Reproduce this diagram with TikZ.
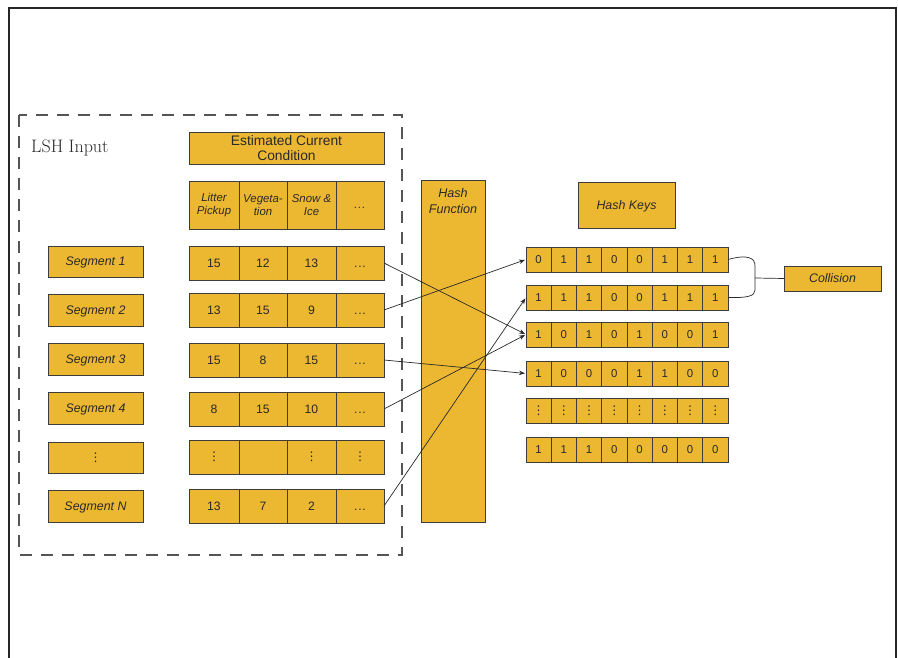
\documentclass[tikz,border=0pt]{standalone}
\usepackage{fontspec}
\newfontfamily\sansf{Liberation Sans}
\newfontfamily\djv{DejaVu Sans}
\usetikzlibrary{arrows.meta}
\definecolor{boxfill}{HTML}{ECB731}
\definecolor{boxline}{HTML}{3C3C3C}
\definecolor{txt}{HTML}{2A2A2A}
\definecolor{frame}{HTML}{262626}
\definecolor{dashc}{HTML}{555555}
\newcommand\ddd{\vphantom{1}.\kern0.8pt.\kern0.8pt.}
\newcommand\vd{{\djv\fontsize{12}{12}\selectfont ⋮}}
\tikzset{
  bx/.style={draw=boxline, fill=boxfill, line width=0.8pt, inner sep=0pt, outer sep=0pt,
    text=txt, font=\sansf\fontsize{12.2}{13}\selectfont, align=center},
  segtxt/.style={font=\sansf\itshape\fontsize{12.4}{14}\selectfont, text depth=0pt},
  hdtxt/.style={font=\sansf\itshape\fontsize{11.4}{13}\selectfont},
  keytxt/.style={font=\sansf\fontsize{11.4}{12}\selectfont},
  arr/.style={draw=txt, line width=0.7pt, -{Stealth[length=6pt,width=4.5pt]}, shorten >=1pt},
  conn/.style={draw=txt, line width=0.7pt},
}
% #1 options, #2 name, #3 x1, #4 y1, #5 x2, #6 y2, #7 text
\newcommand\bxat[7][]{%
  \pgfmathsetmacro\bw{#5-#3}\pgfmathsetmacro\bh{#6-#4}%
  \pgfmathsetmacro\bcx{(#3+#5)/2}\pgfmathsetmacro\bcy{(#4+#6)/2}%
  \node[bx,minimum width=\bw pt,minimum height=\bh pt,#1] (#2) at (\bcx,\bcy) {#7};}
\begin{document}
\begin{tikzpicture}[x=1pt,y=-1pt]
\useasboundingbox (0,0) rectangle (898,658);
% outer frame
\draw[frame, line width=2pt] (9,658) -- (9,8) -- (896,8) -- (896,658);
% dashed input region
\draw[dashc, line width=1.3pt, dash pattern=on 12pt off 9pt] (19,115) rectangle (402,555);
\node[anchor=west, text=txt, font=\fontsize{18}{20}\selectfont, inner sep=0pt] (lsh) at (31,148) {LSH Input};
% header
\bxat[font=\sansf\fontsize{13.8}{15}\selectfont]{est}{189}{132}{384}{164}{Estimated Current\\Condition}
\bxat[hdtxt]{h1}{189}{181}{239}{229}{Litter\\Pickup}
\bxat[hdtxt]{h2}{239}{181}{287}{229}{Vegeta-\\tion}
\bxat[hdtxt]{h3}{287}{181}{336}{229}{Snow \&\\Ice}
\bxat[hdtxt]{h4}{336}{181}{384}{229}{\ddd}
% segments
\bxat[segtxt]{s1}{48}{246}{143}{277}{Segment 1}
\bxat[segtxt]{s2}{48}{294}{143}{326}{Segment 2}
\bxat[segtxt]{s3}{48}{343}{143}{375}{Segment 3}
\bxat[segtxt]{s4}{48}{392}{143}{424}{Segment 4}
\bxat[segtxt]{s5}{48}{442}{143}{473}{\vd}
\bxat[segtxt]{s6}{48}{490}{143}{522}{Segment N}
% value rows
\foreach \r/\ya/\yb/\va/\vb/\vc/\vdd in {1/246/280/15/12/13/\ddd, 2/293/327/13/15/9/\ddd,
   3/343/377/15/8/15/\ddd, 4/392/426/8/15/10/\ddd, 5/440/474/\vd/{}/\vd/\vd, 6/489/523/13/7/2/\ddd}{
  \bxat{v\r a}{189}{\ya}{239}{\yb}{\va}
  \bxat{v\r b}{239}{\ya}{287}{\yb}{\vb}
  \bxat{v\r c}{287}{\ya}{336}{\yb}{\vc}
  \bxat{v\r d}{336}{\ya}{384}{\yb}{\vdd}
}
% hash function
\bxat[label={[anchor=north, text=txt, font=\sansf\itshape\fontsize{12.6}{16}\selectfont, align=center, inner sep=0pt, label distance=-8pt]north:{Hash\\Function}}]{hf}{421}{180}{485}{522}{}
% hash keys
\bxat[segtxt]{hk}{578}{182}{675}{228}{Hash Keys}
\foreach \r/\yt/\vals in {1/247/{0,1,1,0,0,1,1,1}, 2/285/{1,1,1,0,0,1,1,1}, 3/322/{1,0,1,0,1,0,0,1},
   4/361/{1,0,0,0,1,1,0,0}, 5/398/{\vd,\vd,\vd,\vd,\vd,\vd,\vd,\vd}, 6/437/{1,1,1,0,0,0,0,0}}{
  \foreach \v [count=\c] in \vals {
    \pgfmathsetmacro\xa{526+(\c-1)*25.25}\pgfmathsetmacro\xb{\xa+25.25}
    \pgfmathsetmacro\yb{\yt+25}
    \bxat[keytxt]{k\r-\c}{\xa}{\yt}{\xb}{\yb}{\v}
  }
}
% collision
\bxat[segtxt]{col}{784}{266}{881}{291}{Collision}
\coordinate (brk) at (755,278);
\draw[conn] (k1-8.east) .. controls (748,254) and (755,258) .. (755,266) -- (brk) -- (755,290)
   .. controls (755,296) and (748,298) .. (k2-8.east);
\draw[conn] (brk) -- (col.west);
% arrows
\draw[arr] (v1d.east) -- (k3-1.west);
\draw[arr] (v2d.east) -- (k1-1.west);
\draw[arr] (v3d.east) -- (k4-1.west);
\draw[arr] (v4d.east) -- (k3-1.west);
\draw[arr] (v6d.east) -- (k2-1.west);
\end{tikzpicture}
\end{document}
